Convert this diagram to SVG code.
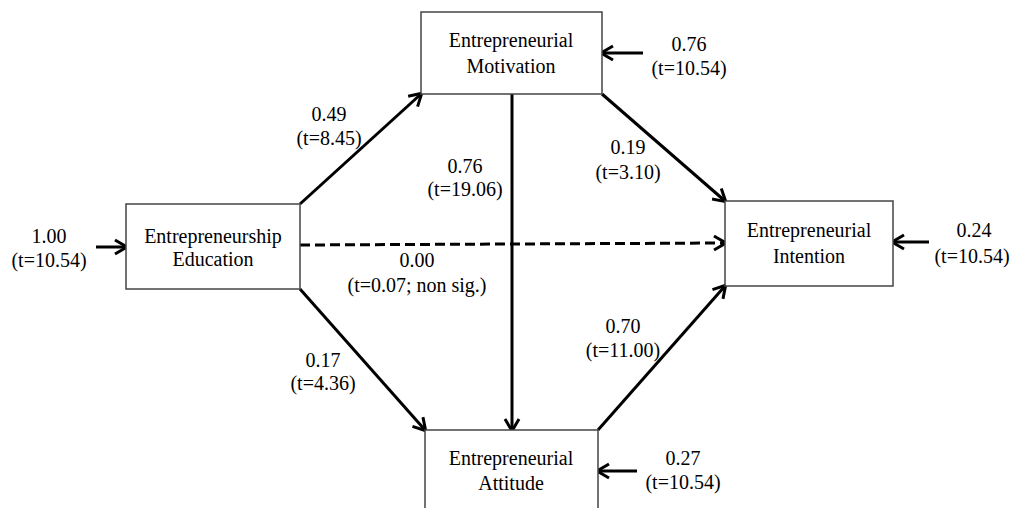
<svg xmlns="http://www.w3.org/2000/svg" width="1015" height="508" viewBox="0 0 1015 508">
<style>
text{font-family:"Liberation Serif","Times New Roman",serif;font-size:20px;fill:#000;text-anchor:middle}
.box{fill:#fff;stroke:#444;stroke-width:1.5}
.c{stroke:#000;stroke-width:3;fill:none;marker-end:url(#ah)}
.d{stroke-dasharray:10 5}
</style>
<defs>
<marker id="ah" markerUnits="userSpaceOnUse" viewBox="-16 -10 20 20" refX="-1" refY="0" markerWidth="20" markerHeight="20" orient="auto">
<path d="M-12,-7 L0,0 L-12,7" fill="none" stroke="#000" stroke-width="3"/>
</marker>
</defs>
<rect width="1015" height="508" fill="#fff"/>
<g id="connectors">
<line class="c" x1="300" y1="204" x2="421" y2="94"/>
<line class="c" x1="602" y1="94" x2="725" y2="201"/>
<line class="c" x1="300" y1="289" x2="425" y2="430"/>
<line class="c" x1="598" y1="430" x2="725" y2="286"/>
<line class="c" x1="512" y1="94" x2="512" y2="430"/>
<line class="c d" x1="300" y1="245" x2="725" y2="243"/>
<line class="c" x1="96" y1="247" x2="126" y2="247"/>
<line class="c" x1="643" y1="53" x2="602" y2="53"/>
<line class="c" x1="637" y1="471" x2="598" y2="471"/>
<line class="c" x1="929" y1="242" x2="893" y2="242"/>
<text x="329" y="121">0.49</text><text x="329" y="145">(t=8.45)</text>
<text x="465" y="173">0.76</text><text x="465" y="196">(t=19.06)</text>
<text x="628" y="154">0.19</text><text x="628" y="179">(t=3.10)</text>
<text x="417" y="267">0.00</text><text x="417" y="292">(t=0.07; non sig.)</text>
<text x="323" y="367">0.17</text><text x="323" y="390">(t=4.36)</text>
<text x="623" y="333">0.70</text><text x="623" y="357">(t=11.00)</text>
<text x="49" y="243">1.00</text><text x="49" y="267">(t=10.54)</text>
<text x="689" y="51">0.76</text><text x="689" y="75">(t=10.54)</text>
<text x="683" y="465">0.27</text><text x="683" y="489">(t=10.54)</text>
<text x="974" y="237">0.24</text><text x="972" y="263">(t=10.54)</text>
</g>
<g id="education">
<rect class="box" x="126" y="204" width="174" height="85"/>
<text x="213" y="243">Entrepreneurship</text><text x="213" y="266">Education</text>
</g>
<g id="motivation">
<rect class="box" x="421" y="12" width="181" height="82"/>
<text x="511" y="47">Entrepreneurial</text><text x="511" y="73">Motivation</text>
</g>
<g id="attitude">
<rect class="box" x="425" y="430" width="173" height="90"/>
<text x="511" y="465">Entrepreneurial</text><text x="511" y="490">Attitude</text>
</g>
<g id="intention">
<rect class="box" x="725" y="201" width="168" height="85"/>
<text x="809" y="237">Entrepreneurial</text><text x="809" y="263">Intention</text>
</g>
</svg>
